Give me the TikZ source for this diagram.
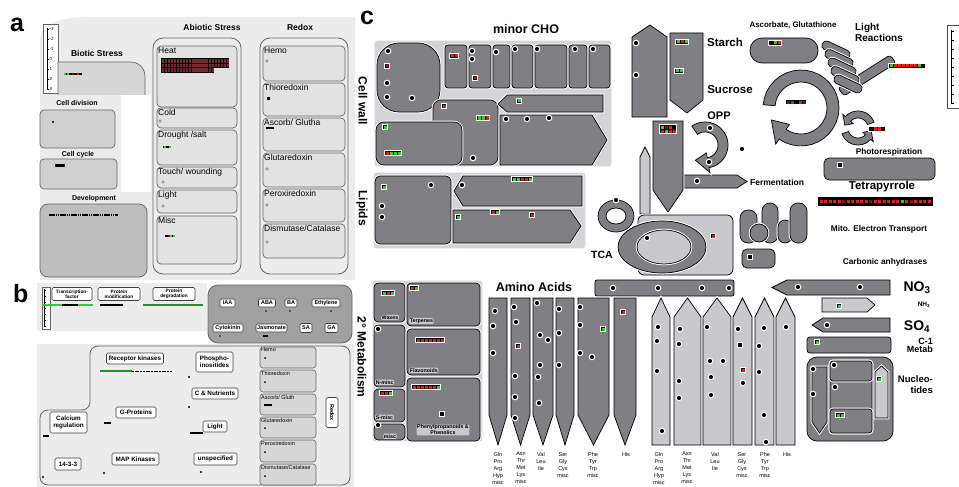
\documentclass[tikz,border=0pt]{standalone}
\usepackage{fontspec}
\setmainfont{Liberation Sans}
\usetikzlibrary{positioning}

\definecolor{pa}{RGB}{236,236,236}
\definecolor{ab}{RGB}{226,226,226}
\definecolor{ad}{RGB}{208,208,208}
\definecolor{dv}{RGB}{190,190,190}
\definecolor{bt}{RGB}{214,214,214}
\definecolor{hm}{RGB}{160,160,160}
\definecolor{cg}{RGB}{128,128,132}
\definecolor{cl}{RGB}{200,200,205}
\definecolor{rg}{RGB}{212,212,216}
\definecolor{rd}{RGB}{225,30,30}
\definecolor{dr}{RGB}{120,20,20}
\definecolor{gn}{RGB}{60,200,60}
\definecolor{bk}{RGB}{0,0,0}
\definecolor{hr}{RGB}{115,40,50}

\newcommand{\sq}[1]{\hspace{.5pt}\textcolor{#1}{\rule{3pt}{3pt}}\hspace{.5pt}}
\newcommand{\sqa}[1]{\hspace{.3pt}\textcolor{#1}{\rule{2pt}{2pt}}\hspace{.3pt}}
% ring arrow: cx, cy, outer, inner, start, end of body, tip angle
\newcommand{\cyclearrow}[7]{%
  \draw[shp] plot[domain=#5:#6, samples=30, variable=\t] ({#1+#3*cos(\t)},{#2+#3*sin(\t)})
    -- ({#1+(1.5*#3-0.5*#4)*cos(#6)},{#2+(1.5*#3-0.5*#4)*sin(#6)})
    -- ({#1+(#3+#4)/2*cos(#7)},{#2+(#3+#4)/2*sin(#7)})
    -- ({#1+(1.5*#4-0.5*#3)*cos(#6)},{#2+(1.5*#4-0.5*#3)*sin(#6)})
    -- plot[domain=#6:#5, samples=30, variable=\t] ({#1+#4*cos(\t)},{#2+#4*sin(\t)}) -- cycle;}

\begin{document}
\begin{tikzpicture}[x=1pt, y=-1pt,
    letter/.style={font=\bfseries\fontsize{25}{25}\selectfont, anchor=base west, inner sep=0},
    hd/.style={font=\bfseries\fontsize{8.5}{9}\selectfont, inner sep=0},
    hds/.style={font=\bfseries\fontsize{7}{8}\selectfont, inner sep=0},
    lab/.style={font=\fontsize{8.5}{9}\selectfont, anchor=north west, inner sep=1pt},
    abox/.style={draw=black!60, fill=ab, line width=.7pt, rounded corners=4pt},
    aout/.style={draw=black!60, fill=pa, line width=.8pt, rounded corners=10pt},
    bb/.style={draw=black!75, fill=white, line width=.6pt, rounded corners=1.5pt,
               align=center, inner sep=.5pt, font=\bfseries\fontsize{6.3}{6.8}\selectfont},
    bt/.style={bb, font=\bfseries\fontsize{4.8}{5.3}\selectfont},
    hbox/.style={bb, font=\bfseries\fontsize{5.5}{6}\selectfont},
    rbox/.style={draw=black!60, fill=bt, line width=.6pt, rounded corners=3pt},
    rlab/.style={font=\fontsize{5.5}{6}\selectfont, anchor=north west, inner sep=1pt},
    reg/.style={fill=rg, draw=white, line width=1.2pt, rounded corners=3pt},
    shp/.style={fill=cg, draw=black, line width=.7pt, preaction={draw=white, line width=2.6pt}},
    lshp/.style={shp, fill=cl},
    mk/.style={fill=black, draw=white, line width=.9pt, inner sep=.8pt},
    mkk/.style={mk, align=left, font=\fontsize{3}{4}\selectfont},
    mka/.style={fill=black, inner sep=.3pt},
    spot/.style={fill=black, draw=white, line width=1pt},
    gdot/.style={fill=gray!60, draw=black!50, line width=.3pt},
    ttl/.style={font=\bfseries\fontsize{12}{13}\selectfont, inner sep=0},
    mid/.style={font=\bfseries\fontsize{8.3}{9}\selectfont, inner sep=0},
    aa/.style={font=\fontsize{5.5}{7}\selectfont, align=center, anchor=north, inner sep=0}
  ]
  \useasboundingbox (0,0) rectangle (959,487);

  % ---------- panel a
  \node[letter] (la) at (10,32) {a};
  \fill[pa] (40,280) -- (40,40) .. controls (40,24) and (60,17) .. (88,17) -- (355,17) -- (355,280) -- cycle;
  \fill[white] (121,95) rectangle (151,192);
  \draw[fill=white, draw=black!60, line width=.6pt] (43,24) rectangle (58,93);
  \draw[line width=.9pt] (47,28) -- (47,89);
  \foreach \v [count=\i from 0] in {-3,-2,-1,0,1,2,3}
    \draw[line width=.4pt] (47,29+\i*10) -- (49,29+\i*10)
      node[right, inner sep=.5pt, font=\fontsize{4.5}{5}\selectfont] (sa\i) {\v};

  \node[hd] (biotic) at (97,53) {Biotic Stress};
  \draw[fill=bt, draw=black!60, line width=.7pt] (58,95) -- (58,62) -- (130,62)
    .. controls (139,62) and (145,68) .. (145,77) -- (145,95);
  \node[mka] (mbio) at (73,74) {\sqa{gn}\sqa{gn}\sqa{bk}\sqa{dr}\sqa{bk}\sqa{rd}\sqa{bk}};

  \node[hds] (celldiv) at (77,103) {Cell division};
  \draw[abox, fill=ad] (40,110) rectangle (115,148);
  \fill (53,122) circle (1.1);
  \node[hds] (cellcyc) at (78,155) {Cell cycle};
  \draw[abox, fill=ad] (40,159) rectangle (117,189);
  \fill (55,164) rectangle (65,167);
  \node[hds] (devel) at (94,199) {Development};
  \draw[abox, fill=dv, rounded corners=8pt] (40,204) rectangle (147,277);
  \draw[line width=2pt, dash pattern=on 1.6pt off .6pt] (49,215) -- (118,215);

  \node[hd] (abiotic) at (212,27) {Abiotic Stress};
  \draw[aout] (153,38) rectangle (241,274);
  \draw[abox] (157,46) rectangle (237,107);
  \node[lab] (heat) at (157,46) {Heat};
  \fill (161,58) rectangle (229,68.5);
  \fill (161,68) rectangle (214,73);
  \foreach \r/\n in {0/22,1/22,2/17}
    \foreach \c in {0,...,\n}
      \fill[hr] (162+\c*2.95,59+\r*4.6) rectangle ++(2.2,3.6);
  \draw[abox] (157,108) rectangle (237,128);
  \node[lab] (cold) at (157,108) {Cold};
  \filldraw[gdot] (160,121) circle (1.4);
  \draw[abox] (157,130) rectangle (237,165);
  \node[lab] (drought) at (157,130) {Drought /salt};
  \node[mka] (mdro) at (167,147) {\sqa{gn}\sqa{bk}\sqa{gn}};
  \draw[abox] (157,167) rectangle (237,188);
  \node[lab] (touch) at (157,167) {Touch/ wounding};
  \filldraw[gdot] (163,182) circle (1.4);
  \draw[abox] (157,190) rectangle (237,213);
  \node[lab] (alight) at (157,190) {Light};
  \filldraw[gdot] (163,206) circle (1.4);
  \draw[abox] (157,216) rectangle (237,264);
  \node[lab] (amisc) at (157,216) {Misc};
  \node[mka] (mmis) at (170,236) {\sqa{bk}\sqa{dr}\sqa{gn}\sqa{gn}};

  \node[hd] (redox) at (300,27) {Redox};
  \draw[aout] (260,38) rectangle (348,274);
  \draw[abox] (263,46) rectangle (345,81);
  \node[lab] (hemo) at (263,46) {Hemo};
  \filldraw[gdot] (267,61) circle (1.4);
  \draw[abox] (263,83) rectangle (345,116);
  \node[lab] (thio) at (263,83) {Thioredoxin};
  \fill (267,97) rectangle (270,100);
  \draw[abox] (263,118) rectangle (345,151);
  \node[lab] (ascorb) at (263,118) {Ascorb/ Glutha};
  \node[mka] (masc) at (270,128) {\sqa{bk}\sqa{bk}\sqa{bk}};
  \draw[abox] (263,153) rectangle (345,187);
  \node[lab] (gluta) at (263,153) {Glutaredoxin};
  \filldraw[gdot] (267,169) circle (1.4);
  \draw[abox] (263,189) rectangle (345,222);
  \node[lab] (perox) at (263,189) {Peroxiredoxin};
  \filldraw[gdot] (267,205) circle (1.4);
  \draw[abox] (263,224) rectangle (345,258);
  \node[lab] (dismu) at (263,224) {Dismutase/Catalase};
  \filldraw[gdot] (267,242) circle (1.4);

  % ---------- panel b
  \node[letter] (lb) at (13,302) {b};
  \fill[pa] (37,283) rectangle (207,331);
  \fill[pa] (37,344) rectangle (354,487);
  \draw[fill=white, draw=black!60, line width=.4pt] (42,287) rectangle (50,329);
  \draw[line width=.5pt] (44,289) -- (44,327);
  \foreach \i in {0,...,6} \draw[line width=.3pt] (44,290+\i*6) -- (45.5,290+\i*6);
  \node[bt, minimum width=40pt, minimum height=13pt] (tf) at (72,294) {Transcription-\\factor};
  \node[bt, minimum width=42pt, minimum height=13pt] (pmod) at (119,294) {Protein\\modification};
  \node[bt, minimum width=42pt, minimum height=13pt] (pdeg) at (174,294) {Protein\\degradation};
  \draw[gn, line width=1.2pt] (42,305) -- (93,305);
  \draw[line width=1.2pt] (62,305) -- (78,305);
  \draw[line width=1.2pt] (100,305) -- (123,305);
  \draw[gn!70!black, line width=1.2pt] (143,305) -- (203,305);

  \draw[fill=hm, draw=black!60, line width=.8pt, rounded corners=10pt] (208,285) rectangle (352,343);
  \node[hbox, minimum width=15pt, minimum height=8pt] (iaa) at (227.5,303) {IAA};
  \node[hbox, minimum width=17pt, minimum height=8pt] (aba) at (267,303) {ABA};
  \node[hbox, minimum width=12pt, minimum height=8pt] (ba) at (291,303) {BA};
  \node[hbox, minimum width=28pt, minimum height=8pt] (ethy) at (326,303) {Ethylene};
  \node[hbox, minimum width=30pt, minimum height=8pt] (cyto) at (228,328) {Cytokinin};
  \node[hbox, minimum width=31pt, minimum height=8pt] (jasm) at (271.5,328) {Jasmonate};
  \node[hbox, minimum width=12pt, minimum height=9pt] (sa) at (306,328) {SA};
  \node[hbox, minimum width=13pt, minimum height=9pt] (ga) at (331.5,328) {GA};
  \foreach \p in {(266,311),(290,311),(331,311),(220,336)} \fill \p circle (.9);
  \fill (263,335) rectangle (268,337);

  \draw[draw=black!60, line width=.8pt, rounded corners=8pt]
    (90,346) -- (350,346) -- (350,485) -- (40,485) -- (40,410) -- (90,410) -- cycle;
  \node[bb, minimum width=57pt, minimum height=11pt] (reck) at (135,358.5) {Receptor kinases};
  \draw[gn!70!black, line width=1.5pt] (100,371) -- (132,371);
  \draw[line width=1pt, dash pattern=on 2pt off .7pt] (132,371) -- (172,371);
  \node[bb, minimum width=37pt, minimum height=20pt] (phos) at (214.5,362) {Phospho-\\inositides};
  \node[bb, minimum width=46pt, minimum height=11pt] (cnut) at (215,393.5) {C \& Nutrients};
  \node[bb, minimum width=40pt, minimum height=11pt] (gprot) at (136,412.5) {G-Proteins};
  \node[bb, minimum width=37pt, minimum height=21pt] (calc) at (68.5,422.5) {Calcium\\regulation};
  \node[bb, minimum width=24pt, minimum height=11pt] (blight) at (215,426.5) {Light};
  \node[bb, minimum width=26pt, minimum height=12pt] (fourteen) at (68,464) {14-3-3};
  \node[bb, minimum width=47pt, minimum height=12pt] (mapk) at (135.5,459) {MAP Kinases};
  \node[bb, minimum width=43pt, minimum height=12pt] (unsp) at (215.5,459) {unspecified};
  \foreach \p in {(189,377),(189,407),(43,477),(104,473),(201,472)} \fill \p circle (1.2);
  \fill (104,422) rectangle (111,424);
  \fill (43,435) rectangle (49,437);
  \fill (190,432) rectangle (203,434);

  \draw[rbox] (260,347) rectangle (316,368);
  \node[rlab] (bhemo) at (260,347) {Hemo};
  \draw[rbox] (260,370) rectangle (316,392);
  \node[rlab] (bthio) at (260,370) {Thioredoxin};
  \draw[rbox] (260,394) rectangle (316,415);
  \node[rlab] (basc) at (260,394) {Ascorb/ Gluth};
  \draw[rbox] (260,417) rectangle (316,438);
  \node[rlab] (bglu) at (260,417) {Glutaredoxin};
  \draw[rbox] (260,440) rectangle (316,462);
  \node[rlab] (bper) at (260,440) {Peroxiredoxin};
  \draw[rbox] (260,464) rectangle (316,485);
  \node[rlab] (bdis) at (260,464) {Dismutase/Catalase};
  \foreach \p in {(265,358),(265,382),(265,405),(265,428),(265,452),(265,476)} \fill \p circle (1);
  \fill (264,404) rectangle (272,406);
  \node[hbox, rotate=-90, minimum width=30pt, minimum height=12pt] (bredox) at (332,412.5) {Redox};

  % ---------- panel c
  \node[letter] (lc) at (360,25) {c};
  \node[ttl, rotate=-90] (cellwall) at (363,101) {Cell wall};
  \node[ttl, rotate=-90] (lipids) at (362,208) {Lipids};
  \node[ttl, rotate=-90] (secmet) at (362,357) {2° Metabolism};
  \node[ttl, font=\bfseries\fontsize{12.5}{13}\selectfont] (minorcho) at (526,29) {minor CHO};

  % cell wall
  \draw[reg] (374,40) rectangle (612,167);
  \draw[shp, rounded corners=22pt] (377,43) rectangle (440,112);
  \foreach \a/\b in {445/467,469/491,493/510,512/533,535/567,569/587,589/610}
    \draw[shp, rounded corners=3pt] (\a,45) rectangle (\b,88);
  \draw[shp, rounded corners=8pt] (433,100) rectangle (498,165);
  \draw[shp, rounded corners=8pt] (376,122) rectangle (462,165);
  \draw[shp] (498,104) -- (507,95) -- (603,95) -- (603,112) -- (507,112) -- cycle;
  \draw[shp] (500,115) -- (592,115) -- (607,140) -- (592,165) -- (500,165) -- cycle;
  \foreach \p in {(388,51),(387,83),(387,97),(412,98),(472,51),(472,59),(496,52),(515,49),(537,49),
                  (575,49),(593,49),(473,158),(506,119),(527,119),(549,118)}
    \filldraw[spot] \p circle (2.8);
  \node[mk] (mw1) at (387,66) {\sq{dr}};
  \node[mk] (mw2) at (454,56) {\sq{rd}\sq{rd}};
  \node[mk] (mw3) at (475,78) {\sq{dr}};
  \node[mk] (mw4) at (444,106) {\sq{rd}};
  \node[mk] (mw5) at (483,118) {\sq{gn}\sq{gn}\sq{rd}};
  \node[mk] (mw6) at (385,127) {\sq{gn}};
  \node[mk] (mw7) at (393,153) {\sq{rd}\sq{gn}\sq{gn}\sq{gn}};
  \node[mk] (mw8) at (519,101) {\sq{gn}};

  % lipids
  \draw[reg] (373,172) rectangle (586,249);
  \draw[shp, rounded corners=5pt] (375,176) rectangle (451,244);
  \draw[shp] (454,191) -- (463,176) -- (582,176) -- (582,206) -- (463,206) -- cycle;
  \draw[shp] (453,210) -- (570,210) -- (581,226) -- (570,243) -- (453,243) -- cycle;
  \foreach \p in {(431,185),(382,206),(382,217),(462,185)} \filldraw[spot] \p circle (2.8);
  \node[mk] (ml1) at (384,187) {\sq{gn}};
  \node[mk] (ml2) at (522,179) {\sq{gn}\sq{gn}\sq{rd}\sq{rd}\sq{gn}};
  \node[mk] (ml3) at (458,217) {\sq{gn}};
  \node[mk] (ml4) at (495,212) {\sq{rd}\sq{gn}};
  \node[mk] (ml5) at (532,215) {\sq{rd}};

  % starch and sucrose
  \draw[shp] (632,37) -- (650,25) -- (667,37) -- (667,117) -- (632,117) -- cycle;
  \draw[shp] (670,33) -- (703,33) -- (703,100) -- (687,113) -- (670,100) -- cycle;
  \foreach \p in {(636,43),(636,75)} \filldraw[spot] \p circle (2.8);
  \node[mk] (ms1) at (682,42) {\sq{gn}\sq{rd}\sq{gn}};
  \node[mk] (ms2) at (679,71) {\sq{gn}\sq{gn}};
  \node[ttl, font=\bfseries\fontsize{11.5}{12}\selectfont] (starch) at (725,42) {Starch};
  \node[ttl, font=\bfseries\fontsize{11.5}{12}\selectfont] (sucrose) at (730,90) {Sucrose};

  % ascorbate, light reactions, calvin cycle, photorespiration
  \node[mid, font=\bfseries\fontsize{7.9}{8}\selectfont] (ascglu) at (793,25) {Ascorbate, Glutathione};
  \draw[shp, rounded corners=12pt] (750,38) rectangle (818,63);
  \node[mk] (ma1) at (775,43) {\sq{bk}\sq{gn}\sq{rd}};
  \node[mid, font=\bfseries\fontsize{10}{11}\selectfont, align=left] (lightr) at (879,32) {Light\\Reactions};
  \draw[shp, rounded corners=3pt] (838,88) -- (890,55) -- (896,63) -- (844,96) -- cycle;
  \foreach \i in {0,...,4} {
    \begin{scope}[shift={(836+\i*3,50+\i*8.5)}, rotate=-25]
      \draw[shp, rounded corners=4pt] (-15,-4.5) rectangle (15,4.5);
    \end{scope}}
  \node[mk] (mlr) at (907,66) {\sq{gn}\sq{rd}\sq{rd}\sq{rd}\sq{rd}\sq{rd}\sq{rd}\sq{gn}\sq{bk}};
  \cyclearrow{801}{108}{38}{26}{185}{485}{518}
  \node[mk] (mcal) at (796,102) {\sq{dr}\sq{rd}\sq{bk}\sq{rd}\sq{dr}};
  \cyclearrow{858}{128}{17}{10}{340}{222}{192}
  \cyclearrow{858}{128}{17}{10}{160}{42}{12}
  \node[mk] (mpr) at (877,129) {\sq{bk}\sq{rd}\sq{rd}\sq{bk}};
  \node[mid] (photoresp) at (889,152) {Photorespiration};
  \draw[shp, rounded corners=5pt] (824,158) rectangle (935,180);
  \node[mk] (mpb) at (840,165) {\sq{bk}};
  \node[ttl, font=\bfseries\fontsize{11.5}{12}\selectfont] (tetra) at (882,187) {Tetrapyrrole};
  \draw[fill=black, draw=white, line width=.9pt] (817,196) rectangle (933,206);
  \foreach \i in {0,...,24} \fill[rd] (819.5+\i*4.5,199.5) rectangle ++(3,3);
  \foreach \i in {5,11,20} \fill[dr] (819.5+\i*4.5,199.5) rectangle ++(3,3);
  \fill[gn] (900.5,199.5) rectangle ++(3,3);
  \node[mid] (mito) at (879,229) {Mito. Electron Transport};
  \node[mid] (carbo) at (885,262) {Carbonic anhydrases};

  % OPP, fermentation, TCA
  \node[ttl, font=\bfseries\fontsize{11}{12}\selectfont] (opp) at (719,116) {OPP};
  \draw[shp] (683,175) -- (737,175) -- (747,181.5) -- (737,188) -- (683,188) -- cycle;
  \node[mid, font=\bfseries\fontsize{8.5}{9}\selectfont, anchor=west] (ferm) at (750,182) {Fermentation};
  \draw[lshp] (640,157) -- (645,147) -- (650,157) -- (650,214) -- (640,214) -- cycle;
  \draw[shp] (653,121) -- (683,121) -- (683,190) -- (668,212) -- (653,190) -- cycle;
  \node[mkk] (mopp) at (668,129) {\sq{gn}\sq{dr}\sq{rd}\sq{bk}\\\sq{rd}\sq{gn}\sq{rd}\sq{rd}};
  \cyclearrow{705}{145}{23}{13}{235}{440}{482}
  \foreach \p in {(710,128),(709,162),(742,149),(697,181)} \filldraw[spot] \p circle (2.8);
  \draw[shp, even odd rule] (616,216) ellipse [x radius=18, y radius=16] (616,216) ellipse [x radius=10, y radius=8];
  \filldraw[spot] (616,200) circle (2.8);
  \draw[lshp, rounded corners=6pt] (638,215) rectangle (733,275);
  \draw[shp] (662,247) ellipse [x radius=44, y radius=26];
  \draw[lshp] (664,247) ellipse [x radius=27, y radius=17];
  \filldraw[spot] (647,238) circle (2.8);
  \node[mk] (mtca) at (713,236) {\sq{rd}};
  \node[ttl, font=\bfseries\fontsize{10.5}{11}\selectfont] (tca) at (602,255) {TCA};

  % mitochondrial electron transport
  \draw[shp, rounded corners=8pt] (740,210) rectangle (757,243);
  \draw[shp, rounded corners=8pt] (762,203) rectangle (778,243);
  \draw[shp, rounded corners=7pt] (778,220) rectangle (792,243);
  \draw[shp, rounded corners=8pt] (790,203) rectangle (807,243);
  \draw[shp] (759,233) circle (9);
  \draw[shp, rounded corners=5pt] (742,249) rectangle (775,268);
  \node[mk] (mmi) at (750,257) {\sq{bk}};

  % secondary metabolism
  \draw[reg] (372,280) rectangle (483,442);
  \draw[shp, rounded corners=4pt] (374,283) rectangle (405,322);
  \draw[shp, rounded corners=4pt] (407,283) rectangle (480,326);
  \draw[shp, rounded corners=4pt] (374,325) rectangle (405,387);
  \draw[shp, rounded corners=4pt] (407,329) rectangle (480,375);
  \draw[shp, rounded corners=4pt] (374,389) rectangle (405,422);
  \draw[shp, rounded corners=4pt] (407,378) rectangle (480,441);
  \draw[shp, rounded corners=4pt] (374,424) rectangle (405,440);
  \begin{scope}[every node/.style={font=\bfseries\fontsize{5.3}{5.8}\selectfont, inner sep=.6pt, fill=cl, rounded corners=1pt}]
    \node[anchor=south] (waxes) at (390,320) {Waxes};
    \node[anchor=south west] (terp) at (409,324) {Terpenes};
    \node[anchor=south west] (nmisc) at (375,385) {N-misc};
    \node[anchor=south west] (flav) at (409,373) {Flavonoids};
    \node[anchor=south west] (smisc) at (375,420) {S-misc};
    \node[anchor=south] (misc) at (390,439) {misc};
    \node[align=center] (phen) at (443,430) {Phenylpropanoids \&\\Phenolics};
  \end{scope}
  \foreach \p in {(378,329),(378,425)} \filldraw[spot] \p circle (2.8);
  \node[mk] (m2a) at (388,293) {\sq{gn}\sq{rd}\sq{gn}};
  \node[mk] (m2b) at (414,288) {\sq{rd}\sq{gn}};
  \node[mk] (m2c) at (430,340) {\sq{rd}\sq{rd}\sq{rd}\sq{rd}\sq{rd}\sq{rd}\sq{rd}};
  \node[mk] (m2d) at (386,393) {\sq{rd}\sq{rd}\sq{gn}};
  \node[mk] (m2e) at (426,387) {\sq{rd}\sq{rd}\sq{rd}\sq{rd}\sq{rd}\sq{rd}\sq{gn}};
  \node[mk] (m2f) at (442,414) {\sq{bk}};

  % amino acids
  \node[ttl, font=\bfseries\fontsize{12.5}{13}\selectfont] (amino) at (534,287) {Amino Acids};
  \draw[shp, rounded corners=2pt] (595,280) rectangle (734,296);
  \foreach \a/\b in {489/507,511/530,533/553,556/574,578/609,614/636}
    \draw[shp] (\a,298) -- (\b,298) -- (\b,415) -- ({(\a+\b)/2},445) -- (\a,415) -- cycle;
  \foreach \a/\b in {652/670,674/701,703/731,733/752,755/774,776/795}
    \draw[lshp] (\a,317) -- ({(\a+\b)/2},298) -- (\b,317) -- (\b,445) -- (\a,445) -- cycle;
  \foreach \p in {(613,288),(658,288),(702,288),(729,288),
                  (495,311),(493,326),(493,353),(514,307),(516,322),(515,376),(515,397),(515,418),
                  (537,303),(540,335),(548,340),(540,365),(538,377),(539,403),(559,309),(559,333),
                  (559,365),(580,307),(580,325),(580,353),(592,357),
                  (658,327),(657,341),(657,371),(662,431),(680,329),(679,344),(679,381),(679,398),
                  (707,327),(710,361),(723,361),(711,377),(711,395),(738,329),(743,383),
                  (764,328),(759,346),(759,372),(764,415),(766,442),(786,327)}
    \filldraw[spot] \p circle (2.8);
  \node[mk] (maa1) at (518,346) {\sq{rd}};
  \node[mk] (maa2) at (603,329) {\sq{gn}};
  \node[mk] (maa3) at (623,312) {\sq{rd}};
  \node[mk] (maa4) at (740,345) {\sq{bk}};
  \node[mk] (maa5) at (743,370) {\sq{rd}};
  \node[aa] (aal1) at (498,452) {Gln\\Pro\\Arg\\Hyp\\misc};
  \node[aa] (aal2) at (521,452) {Asn\\Thr\\Met\\Lys\\misc};
  \node[aa] (aal3) at (541,452) {Val\\Leu\\Ile};
  \node[aa] (aal4) at (563,452) {Ser\\Gly\\Cys\\misc};
  \node[aa] (aal5) at (593,452) {Phe\\Tyr\\Trp\\misc};
  \node[aa] (aal6) at (626,452) {His};
  \node[aa] (aar1) at (659,452) {Gln\\Pro\\Arg\\Hyp\\misc};
  \node[aa] (aar2) at (687,452) {Asn\\Thr\\Met\\Lys\\misc};
  \node[aa] (aar3) at (715,452) {Val\\Leu\\Ile};
  \node[aa] (aar4) at (742,452) {Ser\\Gly\\Cys\\misc};
  \node[aa] (aar5) at (765,452) {Phe\\Tyr\\Trp\\misc};
  \node[aa] (aar6) at (787,452) {His};

  % nitrogen, sulfur, C-1, nucleotides
  \draw[shp] (772,287.5) -- (787,280) -- (890,280) -- (890,295) -- (787,295) -- cycle;
  \draw[lshp] (822,298) -- (867,298) -- (875,305) -- (867,312) -- (822,312) -- cycle;
  \draw[shp] (812,325) -- (823,318) -- (890,318) -- (890,332) -- (823,332) -- cycle;
  \draw[shp, rounded corners=3pt] (807,337) rectangle (891,353);
  \draw[shp, rounded corners=10pt] (807,357) rectangle (893,441);
  \draw[shp] (812,367) -- (827,367) -- (827,422) -- (819.5,433) -- (812,422) -- cycle;
  \draw[shp, rounded corners=3pt] (830,361) rectangle (872,433);
  \draw[shp, rounded corners=3pt] (830,361) rectangle (872,381);
  \draw[shp, rounded corners=3pt] (830,409) rectangle (872,433);
  \draw[lshp] (875,372) -- (881.5,366) -- (888,372) -- (888,418) -- (875,418) -- cycle;
  \foreach \p in {(798,287),(860,287),(827,325),(813,369),(834,365),(835,387),(813,394)}
    \filldraw[spot] \p circle (2.8);
  \node[mk] (mnh) at (839,306) {\sq{gn}};
  \node[mk] (mc1) at (817,342) {\sq{gn}};
  \node[mk] (mnu1) at (879,379) {\sq{gn}};
  \node[mk] (mnu2) at (840,415) {\sq{gn}\sq{gn}};
  \node[ttl, font=\bfseries\fontsize{14}{15}\selectfont] (no3) at (917,288) {NO\textsubscript{3}};
  \node[mid, font=\bfseries\fontsize{6.5}{7}\selectfont] (nh3) at (924,305) {NH\textsubscript{3}};
  \node[ttl, font=\bfseries\fontsize{14}{15}\selectfont] (so4) at (917,327) {SO\textsubscript{4}};
  \node[mid, font=\bfseries\fontsize{9}{8}\selectfont, align=right, anchor=east] (c1) at (933,345) {C-1\\Metab};
  \node[mid, font=\bfseries\fontsize{9.5}{11}\selectfont, align=right, anchor=east] (nucl) at (933,385) {Nucleo-\\tides};

  % right scale
  \draw[fill=white, draw=black!70, line width=.6pt] (947,25) rectangle (965,108);
  \draw[line width=.9pt] (951,30) -- (951,103);
  \foreach \i in {0,...,8} \draw[line width=.4pt] (951,31+\i*9) -- (953.5,31+\i*9);
\end{tikzpicture}
\end{document}
